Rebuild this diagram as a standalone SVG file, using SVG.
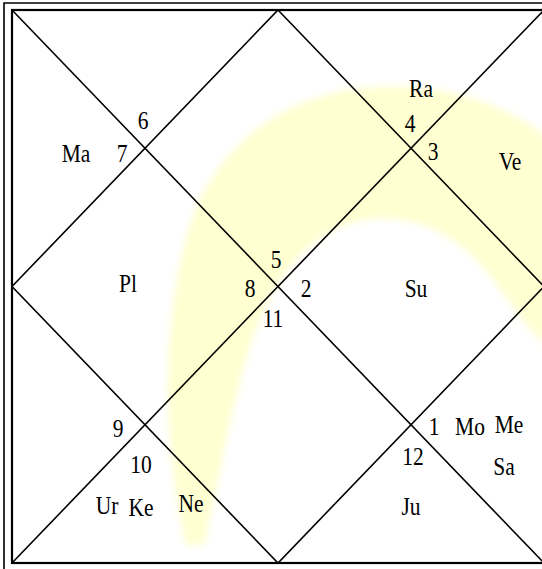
<svg xmlns="http://www.w3.org/2000/svg" width="542" height="569" viewBox="0 0 542 569">
<defs>
<filter id="blur" x="-20%" y="-20%" width="140%" height="140%"><feGaussianBlur stdDeviation="3.5"/></filter>
</defs>
<style>
.t{font-family:"Liberation Serif","Times New Roman",serif;font-size:21.5px;fill:#000;text-anchor:middle}
.ln{stroke:#000;stroke-width:1.6;fill:none}
</style>
<rect width="542" height="569" fill="#fff"/>
<path id="watermark" d="M 186 545 C 163 450 161 330 186 238 C 210 148 280 98 360 88 C 440 80 505 103 548 138 L 548 345 C 518 325 497 274 462 247 C 422 214 368 210 328 233 C 290 256 264 300 249 350 C 230 412 218 485 204 545 Z" fill="#ffffd2" filter="url(#blur)"/>
<g id="border">
<path class="ln" d="M 4 569 L 4 3 L 542 3" stroke-width="1.5"/>
<rect x="12" y="10" width="532" height="553" fill="none" stroke="#000" stroke-width="2.2"/>
</g>
<g id="connectors">
<line class="ln" x1="12" y1="10" x2="544" y2="563"/>
<line class="ln" x1="12" y1="563" x2="544" y2="10"/>
<polygon class="ln" points="278,10 544,286.5 278,563 12,286.5"/>
</g>
<g id="house1"><text class="t" transform="translate(434 435) scale(1 1.15)">1</text><text class="t" transform="translate(470 435) scale(1 1.15)">Mo</text><text class="t" transform="translate(509 433) scale(1 1.15)">Me</text><text class="t" transform="translate(504 475) scale(1 1.15)">Sa</text></g>
<g id="house2"><text class="t" transform="translate(306 297) scale(1 1.15)">2</text><text class="t" transform="translate(416 297) scale(1 1.15)">Su</text></g>
<g id="house3"><text class="t" transform="translate(433 160) scale(1 1.15)">3</text><text class="t" transform="translate(510 170) scale(1 1.15)">Ve</text></g>
<g id="house4"><text class="t" transform="translate(410 132) scale(1 1.15)">4</text><text class="t" transform="translate(421 97) scale(1 1.15)">Ra</text></g>
<g id="house5"><text class="t" transform="translate(276 268) scale(1 1.15)">5</text></g>
<g id="house6"><text class="t" transform="translate(143 129) scale(1 1.15)">6</text></g>
<g id="house7"><text class="t" transform="translate(122 162) scale(1 1.15)">7</text><text class="t" transform="translate(76 162) scale(1 1.15)">Ma</text></g>
<g id="house8"><text class="t" transform="translate(250 297) scale(1 1.15)">8</text><text class="t" transform="translate(128 292) scale(1 1.15)">Pl</text></g>
<g id="house9"><text class="t" transform="translate(118 437) scale(1 1.15)">9</text></g>
<g id="house10"><text class="t" transform="translate(141 473) scale(1 1.15)">10</text><text class="t" transform="translate(107 514) scale(1 1.15)">Ur</text><text class="t" transform="translate(141 516) scale(1 1.15)">Ke</text><text class="t" transform="translate(191 512) scale(1 1.15)">Ne</text></g>
<g id="house11"><text class="t" transform="translate(273 327) scale(1 1.15)">11</text></g>
<g id="house12"><text class="t" transform="translate(413 465) scale(1 1.15)">12</text><text class="t" transform="translate(411 515) scale(1 1.15)">Ju</text></g>
</svg>
